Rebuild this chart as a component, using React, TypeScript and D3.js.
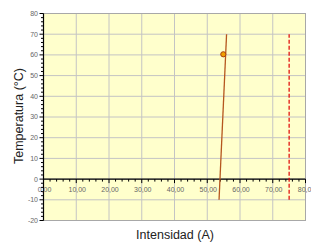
import React from "react";
import * as d3 from "d3";

const xTicks = [0, 10, 20, 30, 40, 50, 60, 70, 80];
const yTicks = [80, 70, 60, 50, 40, 30, 20, 10, 0, -10, -20];
const lineX = [53.6, 55.9];
const lineY = [-10, 70];
const pointX = [54.9];
const pointY = [60.3];
const limitX = [75, 75];
const limitY = [-10, 70];

export default function App() {
  const W = 311, H = 243;
  const x = d3.scaleLinear().domain([0, 80]).range([43.5, 305.5]);
  const y = d3.scaleLinear().domain([-20, 80]).range([220.5, 13.5]);
  const minorX = d3.range(0, 80.01, 2);
  const minorY = d3.range(-20, 80.01, 2);
  const fmt = (v: number) => v.toFixed(2).replace(".", ",");
  const line = d3.line<[number, number]>().x(d => x(d[0])).y(d => y(d[1]));
  const mainPts: [number, number][] = lineX.map((v, i) => [v, lineY[i]]);
  const limPts: [number, number][] = limitX.map((v, i) => [v, limitY[i]]);
  const font = "'Liberation Sans', Arial, sans-serif";
  return (
    <svg width={W} height={H} style={{ position: "absolute", left: 0, top: 0, background: "#fff" }}>
      <rect x={x(0)} y={y(80)} width={x(80) - x(0)} height={y(-20) - y(80)} fill="#ffffcc" />
      {xTicks.map(t => (
        <line key={"gx" + t} x1={x(t)} x2={x(t)} y1={y(80)} y2={y(-20)} stroke="#c4c4c4" strokeWidth={1} />
      ))}
      {yTicks.map(t => (
        <line key={"gy" + t} x1={x(0)} x2={x(80)} y1={y(t)} y2={y(t)} stroke="#c4c4c4" strokeWidth={1} />
      ))}
      <rect x={x(0)} y={y(80)} width={x(80) - x(0)} height={y(-20) - y(80)} fill="none" stroke="#a8a8a8" strokeWidth={1} />
      {/* x axis at y=0 */}
      <line x1={x(0)} x2={x(80)} y1={y(0)} y2={y(0)} stroke="#000" strokeWidth={1.2} />
      {minorX.map(t => (
        <line key={"mx" + t} x1={x(t)} x2={x(t)} y1={y(0)} y2={y(0) + (t % 10 === 0 ? 4 : 2.5)} stroke="#000" strokeWidth={1} />
      ))}
      {/* y axis */}
      <line x1={x(0)} x2={x(0)} y1={y(80)} y2={y(-20)} stroke="#000" strokeWidth={1.2} />
      {minorY.map(t => (
        <line key={"my" + t} x1={x(0) - (t % 10 === 0 ? 4 : 2.5)} x2={x(0)} y1={y(t)} y2={y(t)} stroke="#000" strokeWidth={1} />
      ))}
      {yTicks.map(t => (
        <text key={"ly" + t} x={38} y={y(t)} dy="0.35em" textAnchor="end" fontSize={7} fill="#666" fontFamily={font}>{t}</text>
      ))}
      {xTicks.map(t => (
        <text key={"lx" + t} x={x(t) + 1} y={y(0) + 10} dy="0.35em" textAnchor="middle" fontSize={7} fill="#666" fontFamily={font}>{fmt(t)}</text>
      ))}
      <path d={line(limPts) || ""} stroke="#e00000" strokeWidth={1.2} strokeDasharray="4,2" fill="none" />
      <path d={line(mainPts) || ""} stroke="#b5561e" strokeWidth={1.3} fill="none" />
      {pointX.map((v, i) => (
        <circle key={"p" + i} cx={x(v)} cy={y(pointY[i])} r={2.6} fill="#f0a000" stroke="#a84010" strokeWidth={1} />
      ))}
      <text x={175} y={235} dy="0.35em" textAnchor="middle" fontSize={12.5} fill="#222" fontFamily={font}>Intensidad (A)</text>
      <text transform={`translate(19,116) rotate(-90)`} dy="0.35em" textAnchor="middle" fontSize={12.5} fill="#222" fontFamily={font}>Temperatura (°C)</text>
    </svg>
  );
}
